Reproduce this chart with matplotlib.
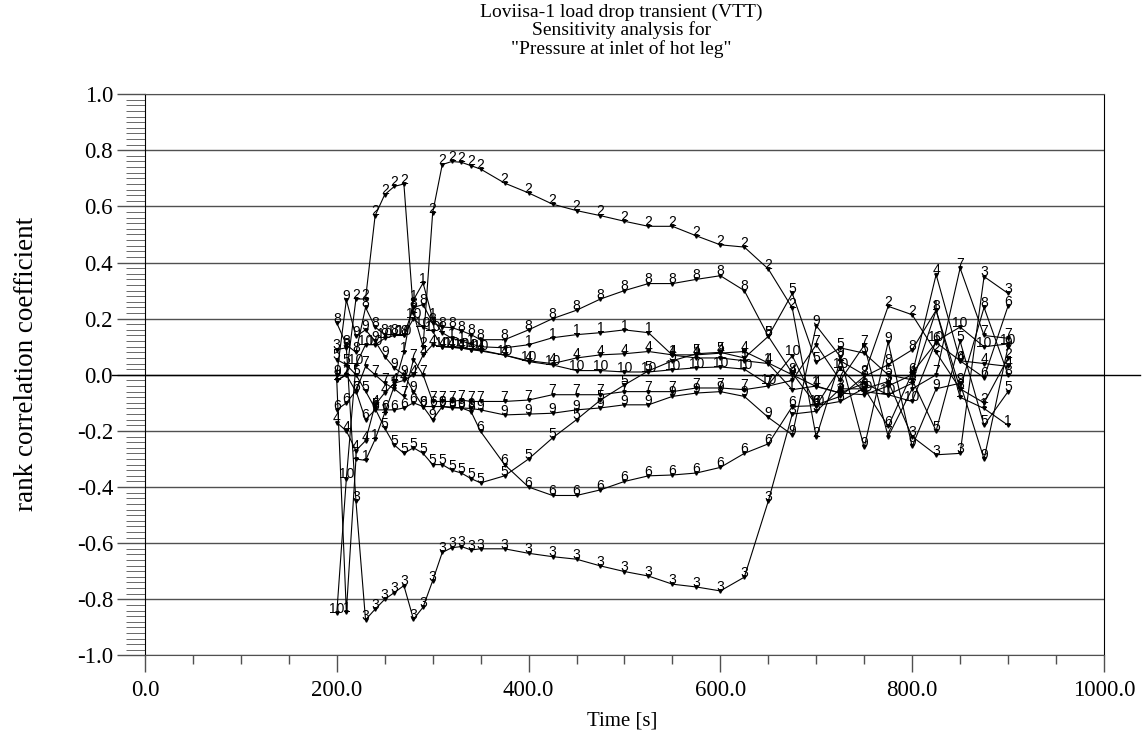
import numpy as np
import matplotlib
matplotlib.use('Agg')
import matplotlib.pyplot as plt
from matplotlib.ticker import MultipleLocator, FormatStrFormatter

# Rank correlation coefficients of 10 input parameters vs. time
time = [200, 210, 220, 230, 240, 250, 260, 270, 280, 290, 300, 310, 320, 330, 340, 350,
        375, 400, 425, 450, 475, 500, 525, 550, 575, 600, 625, 650, 675, 700, 725, 750,
        775, 800, 825, 850, 875, 900]

s1 = [-0.02, -0.845, -0.30, -0.305, -0.23, -0.136, -0.04, 0.08, 0.267, 0.327, 0.20, 0.15,
      0.13, 0.12, 0.11, 0.10, 0.096, 0.107, 0.132, 0.143, 0.15, 0.16, 0.15, 0.07, 0.06, 0.06,
      0.05, 0.04, -0.053, -0.04, -0.065, -0.03, -0.071, -0.03, 0.23, -0.08, -0.12, -0.18]
s2 = [-0.02, 0.0, 0.27, 0.27, 0.567, 0.642, 0.671, 0.680, 0.22, 0.10, 0.577, 0.749, 0.76,
      0.757, 0.745, 0.733, 0.683, 0.648, 0.608, 0.585, 0.567, 0.547, 0.529, 0.529, 0.495,
      0.463, 0.455, 0.377, 0.238, -0.223, 0.05, 0.0, 0.244, 0.214, 0.08, -0.05, -0.10, 0.06]
s3 = [0.09, 0.096, -0.45, -0.873, -0.835, -0.80, -0.776, -0.751, -0.871, -0.828, -0.734,
      -0.633, -0.616, -0.612, -0.624, -0.620, -0.620, -0.636, -0.648, -0.657, -0.681, -0.701,
      -0.717, -0.746, -0.756, -0.770, -0.721, -0.45, -0.14, -0.13, -0.05, -0.05, -0.024,
      -0.22, -0.285, -0.28, 0.35, 0.29]
s4 = [-0.17, -0.20, -0.27, -0.235, -0.107, -0.064, -0.03, -0.02, 0.0, 0.07, 0.107, 0.10,
      0.098, 0.095, 0.09, 0.085, 0.07, 0.05, 0.04, 0.06, 0.071, 0.075, 0.083, 0.071, 0.071,
      0.077, 0.083, 0.042, 0.0, -0.042, -0.065, -0.071, -0.04, 0.0, 0.357, 0.05, 0.04, 0.03]
s5 = [0.054, 0.036, 0.0, -0.058, -0.12, -0.19, -0.25, -0.28, -0.26, -0.28, -0.32, -0.32,
      -0.34, -0.35, -0.37, -0.385, -0.36, -0.30, -0.225, -0.16, -0.09, -0.036, 0.014, 0.05,
      0.075, 0.08, 0.06, 0.137, 0.29, 0.045, 0.096, 0.077, 0.0, -0.018, -0.20, 0.12, -0.18,
      -0.06]
s6 = [-0.125, -0.10, -0.057, -0.16, -0.125, -0.125, -0.125, -0.118, -0.10, -0.113, -0.113,
      -0.113, -0.118, -0.118, -0.131, -0.202, -0.32, -0.40, -0.43, -0.43, -0.41, -0.38, -0.36,
      -0.357, -0.35, -0.33, -0.28, -0.246, -0.113, -0.11, -0.095, -0.048, -0.184, 0.006,
      0.115, 0.05, -0.01, 0.245]
s7 = [-0.02, 0.0, -0.06, 0.03, 0.0, -0.03, -0.05, -0.077, 0.054, 0.0, -0.095, -0.095,
      -0.095, -0.09, -0.095, -0.095, -0.095, -0.09, -0.071, -0.071, -0.071, -0.06, -0.06,
      -0.06, -0.047, -0.047, -0.053, -0.04, -0.02, 0.107, -0.02, 0.105, -0.22, -0.05, 0.0,
      0.38, 0.14, 0.13]
s8 = [0.185, 0.107, 0.08, 0.24, 0.17, 0.143, 0.143, 0.14, 0.24, 0.25, 0.185, 0.17, 0.168,
      0.157, 0.143, 0.125, 0.125, 0.16, 0.20, 0.23, 0.27, 0.30, 0.325, 0.325, 0.34, 0.353,
      0.30, 0.137, 0.006, -0.107, -0.077, -0.006, 0.036, 0.089, 0.23, -0.05, 0.24, 0.0]
s9 = [0.0, 0.267, 0.137, 0.16, 0.12, 0.065, 0.025, 0.0, -0.06, -0.113, -0.16, -0.113,
      -0.115, -0.118, -0.12, -0.125, -0.143, -0.14, -0.137, -0.125, -0.118, -0.107, -0.107,
      -0.077, -0.065, -0.06, -0.077, -0.152, -0.214, 0.175, 0.065, -0.259, 0.117, -0.255,
      -0.05, -0.03, -0.30, 0.10]
s10 = [-0.85, -0.37, 0.036, 0.107, 0.107, 0.13, 0.14, 0.14, 0.20, 0.17, 0.155, 0.10, 0.098,
       0.095, 0.09, 0.088, 0.07, 0.047, 0.035, 0.015, 0.015, 0.01, 0.01, 0.018, 0.025, 0.028,
       0.02, -0.035, 0.068, -0.11, 0.024, -0.06, -0.071, -0.095, 0.12, 0.17, 0.10, 0.11]

series = [s1, s2, s3, s4, s5, s6, s7, s8, s9, s10]

titleLines = ['Loviisa-1 load drop transient (VTT)', 'Sensitivity analysis for',
              '"Pressure at inlet of hot leg"']

serif = 'Liberation Serif'
sans = 'Liberation Sans'
gridColor = '#505050'

fig = plt.figure(figsize=(11.46, 7.44), dpi=100)
ax = fig.add_axes([0.1265, 0.119, 0.8368, 0.7545])

for k, s in enumerate(series):
    ax.plot(time, s, color='black', lw=0.8, marker='v', ms=2.5, zorder=3)
    for t, v in zip(time, s):
        ax.annotate(str(k + 1), (t, v), xytext=(0, -2), textcoords='offset points',
                    ha='center', va='bottom', fontsize=10, family=sans, zorder=4)

ax.set_xlim(0, 1000)
ax.set_ylim(-1, 1)

# axes decoration in the style of the original plotting program
ax.xaxis.set_major_locator(MultipleLocator(200))
ax.xaxis.set_minor_locator(MultipleLocator(50))
ax.yaxis.set_major_locator(MultipleLocator(0.2))
ax.yaxis.set_minor_locator(MultipleLocator(0.02))
ax.xaxis.set_major_formatter(FormatStrFormatter('%.1f'))
ax.yaxis.set_major_formatter(FormatStrFormatter('%.1f'))
ax.tick_params(axis='y', which='major', length=20, width=1, color=gridColor, pad=3,
               labelsize=16.5)
ax.tick_params(axis='y', which='minor', length=13.5, width=0.6, color=gridColor)
ax.tick_params(axis='x', which='major', length=12, width=1, color=gridColor, pad=6,
               labelsize=16.5)
ax.tick_params(axis='x', which='minor', length=6.5, width=1, color=gridColor)
for lab in ax.get_xticklabels() + ax.get_yticklabels():
    lab.set_family(serif)

ax.grid(axis='y', which='major', color=gridColor, lw=1)
for sp in ['left', 'right']:
    ax.spines[sp].set_color('black')
ax.spines['top'].set_color(gridColor)
ax.spines['bottom'].set_color(gridColor)

# zero line sticks out on both sides
ax.plot([-0.034, 1.038], [0, 0], color='black', lw=1, transform=ax.get_yaxis_transform(),
        clip_on=False, zorder=2)

ax.set_xlabel('Time [s]', family=serif, fontsize=15)
ax.xaxis.set_label_coords(0.498, -0.1)
ax.set_ylabel('rank correlation coefficient', family=serif, fontsize=19.5)
ax.yaxis.set_label_coords(-0.11, 0.52)

# three centred title lines
for i, line in enumerate(titleLines):
    fig.text(0.542, 1 - (12 + 18.5 * i) / 744, line, family=serif, fontsize=14,
             ha='center', va='center')

fig.savefig('out.png', dpi=100)
